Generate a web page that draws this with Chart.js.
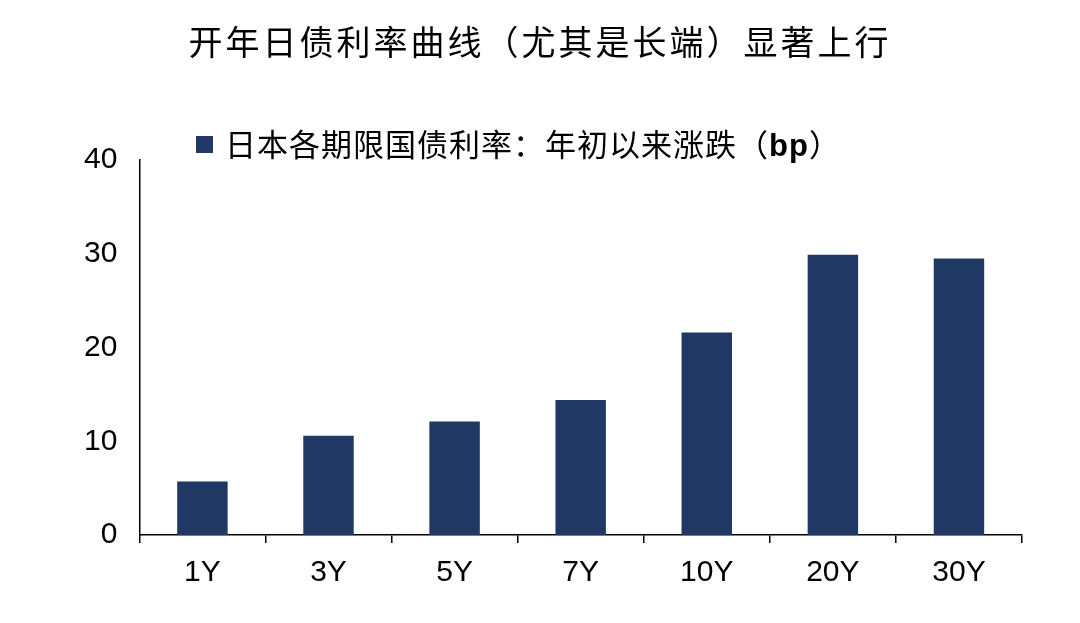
<!DOCTYPE html>
<html><head><meta charset="utf-8">
<script src="https://cdn.jsdelivr.net/npm/chart.js@4"></script>
<style>
body{margin:0;background:#fff;}
#wrap{position:relative;width:1080px;height:623px;}
#title{position:absolute;top:16px;left:0;width:1080px;text-align:center;font:34px "Noto Sans CJK SC";color:#000;letter-spacing:3px;}
#legend{position:absolute;top:120px;left:196px;font:31px "Noto Sans CJK SC";color:#000;letter-spacing:1px;}
#legend span{display:inline-block;width:17px;height:17px;background:#1F3864;margin-right:12px;vertical-align:3px;}
#cv{position:absolute;left:0;top:0;}
</style></head>
<body><div id="wrap">
<canvas id="cv" width="1080" height="623"></canvas>
<div id="title">开年日债利率曲线（尤其是长端）显著上行</div>
<div id="legend"><span></span>日本各期限国债利率：年初以来涨跌（<b style="font-family:Arial,'Liberation Sans'">bp</b>）</div>
</div>
<script>
var tenors=["1Y","3Y","5Y","7Y","10Y","20Y","30Y"];
var changes=[5.7,10.6,12.1,14.4,21.6,29.9,29.5];

new Chart("cv",{
    type:"bar",
    data:{labels:tenors,datasets:[{data:changes,backgroundColor:"#1F3864",barPercentage:0.4,categoryPercentage:1}]},
    options:{
        responsive:false,animation:false,
        layout:{padding:{top:160,left:70,right:58,bottom:20}},
        plugins:{legend:{display:false},tooltip:{enabled:false}},
        scales:{
            x:{grid:{display:true,drawOnChartArea:false,offset:true,tickLength:8,color:"#000",lineWidth:1.5},
               border:{color:"#000",width:1.5},
               ticks:{color:"#000",font:{size:30,family:"Liberation Sans"},padding:12}},
            y:{min:0,max:40,grid:{display:false,tickLength:8},
               border:{color:"#000",width:1.5},
               ticks:{stepSize:10,color:"#000",font:{size:30,family:"Liberation Sans"},padding:14}}
        }
    }
});
</script>
</body></html>
